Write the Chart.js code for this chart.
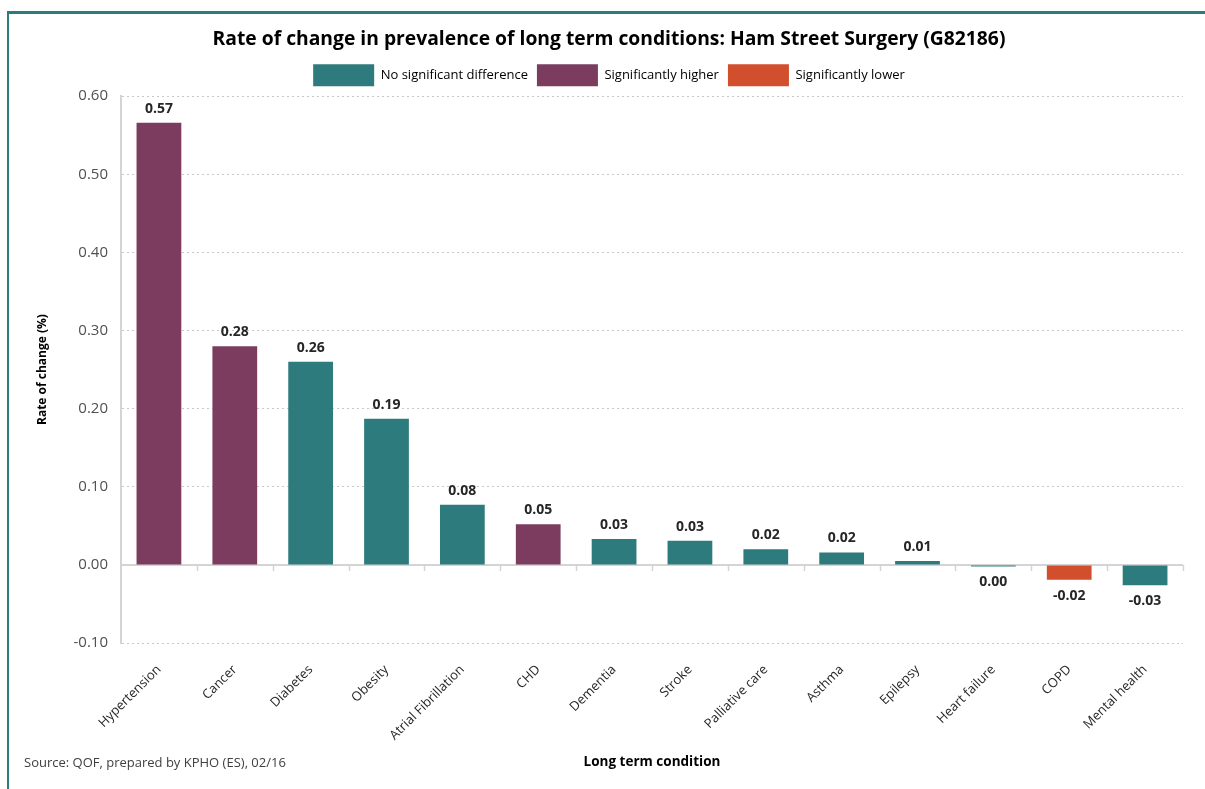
<!DOCTYPE html>
<html>
<head>
<meta charset="utf-8">
<script src="https://cdn.jsdelivr.net/npm/chart.js@4.4.0/dist/chart.umd.min.js"></script>
<style>
  html, body { margin: 0; padding: 0; background: #ffffff; }
  #frame { position: absolute; left: 7px; top: 11px; width: 1198px; height: 778px;
           border-top: 3px solid #2d7b7d; border-left: 2px solid #2d7b7d; box-sizing: border-box; }
  #wrap { position: absolute; left: 0; top: 0; width: 1205px; height: 789px; }
</style>
</head>
<body>
<div id="frame"></div>
<div id="wrap"><canvas id="c" width="1205" height="789"></canvas></div>
<script>
const categories = ["Hypertension", "Cancer", "Diabetes", "Obesity", "Atrial Fibrillation", "CHD",
  "Dementia", "Stroke", "Palliative care", "Asthma", "Epilepsy", "Heart failure", "COPD", "Mental health"];
const rateOfChange = [0.566, 0.280, 0.260, 0.187, 0.077, 0.052, 0.033, 0.031, 0.020, 0.016, 0.005, -0.002, -0.019, -0.026];
const significance = ["higher", "higher", "none", "none", "none", "higher", "none", "none", "none", "none", "none", "none", "lower", "none"];
const legendLabels = ["No significant difference", "Significantly higher", "Significantly lower"];
const legendKeys = ["none", "higher", "lower"];
const yTicks = [-0.10, 0.00, 0.10, 0.20, 0.30, 0.40, 0.50, 0.60];

const palette = { none: "#2e7b7d", higher: "#7b3c5f", lower: "#d24f2e" };
const FONT = "'Open Sans', sans-serif";

const zeroAxisPlugin = {
  id: "zeroAxis",
  beforeDatasetsDraw(chart) {
    const { ctx, chartArea, scales } = chart;
    const y0 = Math.round(scales.y.getPixelForValue(0));
    ctx.save();
    ctx.strokeStyle = "#d4d4d4";
    ctx.lineWidth = 2;
    ctx.beginPath();
    ctx.moveTo(chartArea.left, y0);
    ctx.lineTo(chartArea.right, y0);
    ctx.stroke();
    ctx.lineWidth = 1.5;
    const n = categories.length;
    for (let i = 1; i <= n; i++) {
      const x = i < n ? (scales.x.getPixelForValue(i - 1) + scales.x.getPixelForValue(i)) / 2 : chartArea.right;
      ctx.beginPath();
      ctx.moveTo(Math.round(x) + 0.5, y0);
      ctx.lineTo(Math.round(x) + 0.5, y0 + 6);
      ctx.stroke();
    }
    ctx.restore();
  }
};

const valueLabelPlugin = {
  id: "valueLabels",
  afterDatasetsDraw(chart) {
    const { ctx } = chart;
    const meta = chart.getDatasetMeta(0);
    ctx.save();
    ctx.font = "bold 14px " + FONT;
    ctx.fillStyle = "#262626";
    ctx.textAlign = "center";
    meta.data.forEach((bar, i) => {
      const v = rateOfChange[i];
      const txt = (Math.abs(v) < 0.005 ? 0 : v).toFixed(2);
      if (v >= 0) {
        ctx.textBaseline = "bottom";
        ctx.fillText(txt, bar.x, bar.y - 7);
      } else {
        ctx.textBaseline = "top";
        ctx.fillText(txt, bar.x, Math.max(bar.y, bar.base) + 9);
      }
    });
    ctx.restore();
  }
};

const sourcePlugin = {
  id: "sourceNote",
  afterDraw(chart) {
    const { ctx } = chart;
    ctx.save();
    ctx.font = "13px " + FONT;
    ctx.fillStyle = "#404040";
    ctx.textAlign = "left";
    ctx.textBaseline = "middle";
    ctx.fillText("Source: QOF, prepared by KPHO (ES), 02/16", 24, 763);
    ctx.restore();
  }
};

new Chart(document.getElementById("c"), {
  type: "bar",
  data: {
    labels: categories,
    datasets: [{
      label: "Rate of change (%)",
      data: rateOfChange,
      backgroundColor: significance.map(s => palette[s]),
      borderWidth: 0,
      barPercentage: 0.59,
      categoryPercentage: 1.0
    }]
  },
  options: {
    responsive: false,
    animation: false,
    devicePixelRatio: 1,
    layout: { padding: { left: 35, right: 22, top: 0, bottom: 19 } },
    plugins: {
      title: {
        display: true,
        text: "Rate of change in prevalence of long term conditions: Ham Street Surgery (G82186)",
        font: { family: FONT, size: 19.3, weight: "bold" },
        color: "#000000",
        padding: { top: 28, bottom: 4 }
      },
      legend: {
        display: true,
        position: "top",
        labels: {
          boxWidth: 61,
          boxHeight: 22,
          padding: 9,
          font: { family: FONT, size: 13 },
          color: "#262626",
          generateLabels: () => legendKeys.map((k, i) => ({
            text: legendLabels[i],
            fillStyle: palette[k],
            strokeStyle: palette[k],
            lineWidth: 0,
            hidden: false,
            datasetIndex: 0
          }))
        },
        onClick: () => {}
      },
      tooltip: { enabled: false }
    },
    scales: {
      x: {
        offset: true,
        grid: { display: false },
        border: { display: false },
        ticks: {
          maxRotation: 45, minRotation: 45,
          font: { family: FONT, size: 13 },
          color: "#262626",
          padding: 11
        },
        title: {
          display: true,
          text: "Long term condition",
          font: { family: FONT, size: 13.5, weight: "bold" },
          color: "#000000",
          padding: { top: 0, bottom: 0 }
        },
        afterFit: (s) => { s.height = 127; }
      },
      y: {
        min: -0.1,
        max: 0.6,
        afterBuildTicks: (s) => { s.ticks = yTicks.map(v => ({ value: v })); },
        ticks: {
          font: { family: FONT, size: 15 },
          color: "#505050",
          padding: 13,
          callback: (v) => Number(v).toFixed(2)
        },
        grid: {
          color: (c) => (c.tick && Math.abs(c.tick.value) < 1e-9) ? "rgba(0,0,0,0)" : "#c8c8c8",
          drawTicks: false,
          lineWidth: 1
        },
        border: { display: true, color: "#d4d4d4", width: 2, dash: [2, 3] },
        title: {
          display: true,
          text: "Rate of change (%)",
          font: { family: FONT, size: 12, weight: "bold" },
          color: "#000000",
          padding: { top: 0, bottom: 0 }
        },
        afterFit: (s) => { s.width = 86; }
      }
    }
  },
  plugins: [zeroAxisPlugin, valueLabelPlugin, sourcePlugin]
});
</script>
</body>
</html>
